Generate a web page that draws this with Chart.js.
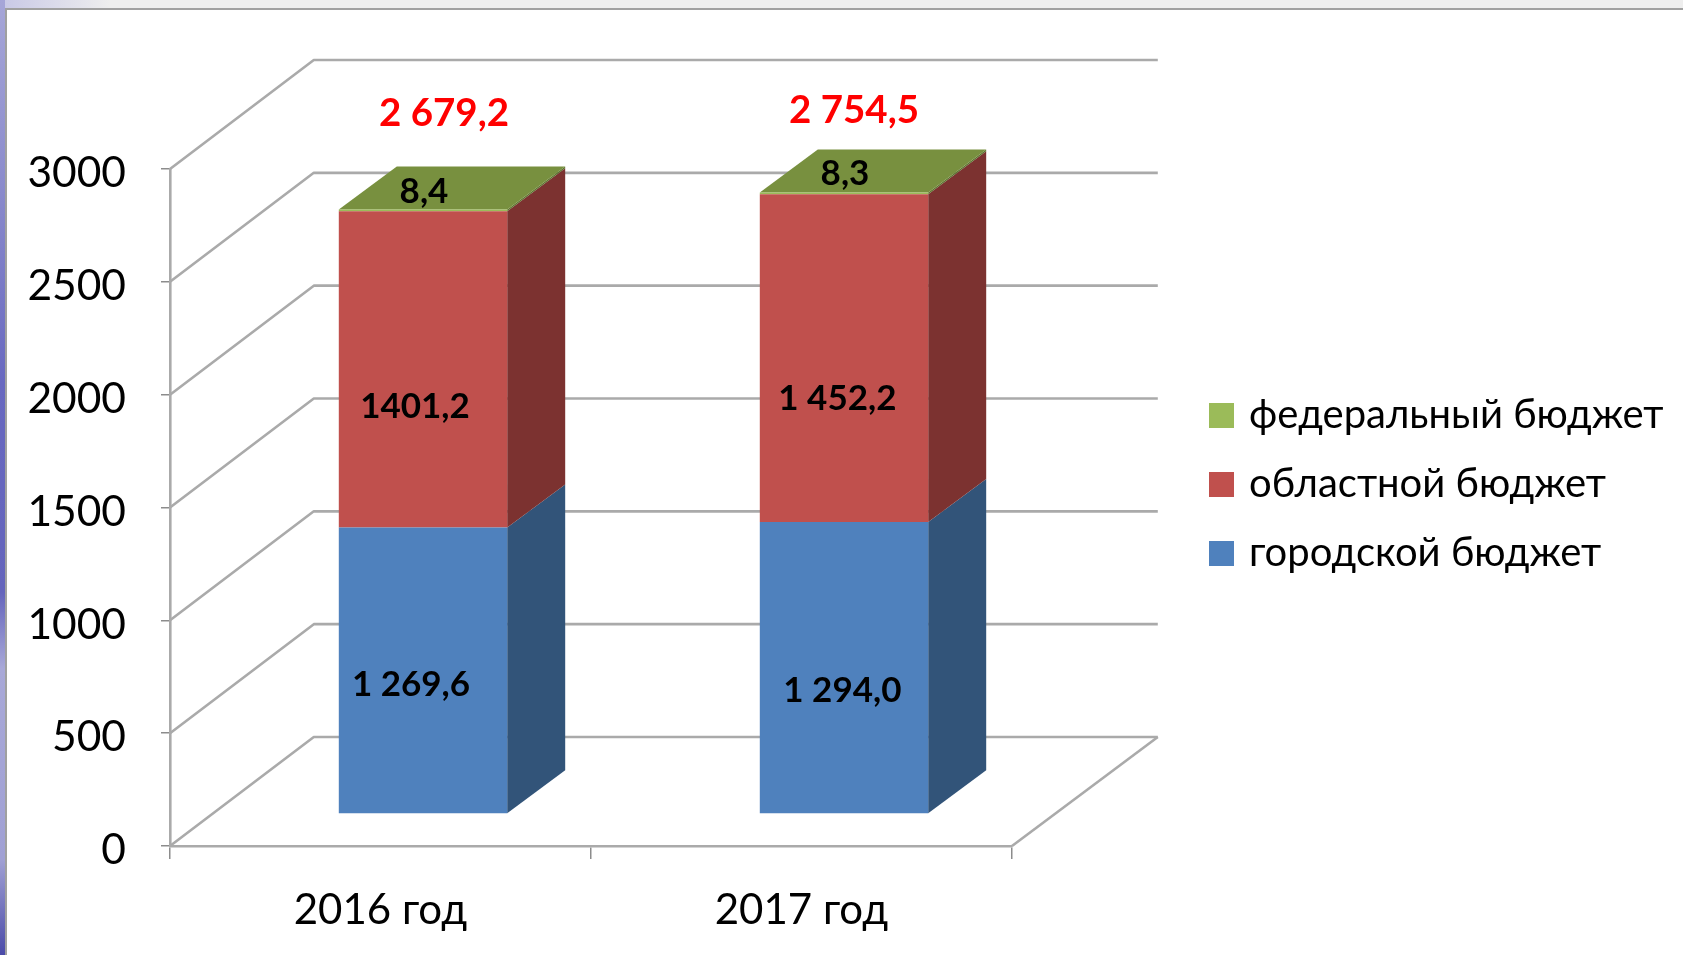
<!DOCTYPE html>
<html><head><meta charset="utf-8">
<style>html,body{margin:0;padding:0;background:#fff;overflow:hidden}canvas{display:block}</style>
<script src="https://cdn.jsdelivr.net/npm/chart.js@4/dist/chart.umd.min.js"></script>
</head><body>
<div style="width:1683px;height:955px"><canvas id="c" width="1683" height="955"></canvas></div>
<script>
const categories = ['2016 год', '2017 год'];
const cityBudget = [1269.6, 1294.0];
const regionBudget = [1401.2, 1452.2];
const federalBudget = [8.4, 8.3];
const cityLabels = ['1 269,6', '1 294,0'];
const regionLabels = ['1401,2', '1 452,2'];
const federalLabels = ['8,4', '8,3'];
const totalLabels = ['2 679,2', '2 754,5'];
const seriesNames = ['городской бюджет', 'областной бюджет', 'федеральный бюджет'];
const yTicks = [0, 500, 1000, 1500, 2000, 2500, 3000];

const FONT = 'Lato, "Open Sans", sans-serif';
const GRID = '#aaaaaa';
const DEPTH = {dx: 143.8, dy: -109};        // wall depth
const BAR_SHIFT = {dx: 42.5, dy: -32};      // bars stand inside the floor
const BAR_DEPTH = {dx: 58, dy: -43};

const faces = [
  {side: '#325479', top: '#3f6797'},
  {side: '#7c3230', top: '#9c403e'},
  {side: '#5f7530', top: '#78903f'}
];

const page = {
  id: 'page',
  beforeDraw(chart) {
    const {ctx, width, height} = chart;
    ctx.save();
    ctx.fillStyle = '#fff'; ctx.fillRect(0, 0, width, height);
    ctx.fillStyle = '#eeeeee'; ctx.fillRect(0, 0, width, 8);
    const top = ctx.createLinearGradient(0, 0, 110, 0);
    top.addColorStop(0, '#c8c8e6'); top.addColorStop(1, '#eeeeee');
    ctx.fillStyle = top; ctx.fillRect(0, 0, 110, 8);
    const left = ctx.createLinearGradient(0, 0, 0, height);
    left.addColorStop(0, '#a6a6d8'); left.addColorStop(0.2, '#8a8acc');
    left.addColorStop(0.4, '#6868c0'); left.addColorStop(0.62, '#6464bc');
    left.addColorStop(0.7, '#a8a8d8'); left.addColorStop(0.9, '#a0a0d4');
    left.addColorStop(1, '#4a4aa8');
    ctx.fillStyle = left; ctx.fillRect(0, 0, 5, height);
    ctx.fillStyle = '#a0a0a0';
    ctx.fillRect(5, 8, width - 5, 2);
    ctx.fillRect(5, 8, 2, height - 8);
    ctx.restore();
  }
};

const walls = {
  id: 'walls',
  beforeDatasetsDraw(chart) {
    const {ctx, chartArea: a, scales: {y}} = chart;
    ctx.save();
    ctx.strokeStyle = GRID; ctx.lineWidth = 2.6; ctx.lineJoin = 'round';
    yTicks.forEach(v => {
      const py = y.getPixelForValue(v);
      ctx.beginPath();
      ctx.moveTo(a.left, py);
      ctx.lineTo(a.left + DEPTH.dx, py + DEPTH.dy);
      ctx.lineTo(a.right + DEPTH.dx + 2, py + DEPTH.dy);
      ctx.stroke();
    });
    const y0 = y.getPixelForValue(0);
    ctx.beginPath();
    ctx.moveTo(a.right + DEPTH.dx + 2, y0 + DEPTH.dy);
    ctx.lineTo(a.right, y0);
    ctx.stroke();
    ctx.restore();
    // bars sit deeper on the floor than the front plane
    ctx.save();
    ctx.translate(BAR_SHIFT.dx, BAR_SHIFT.dy);
    chart.data.datasets.forEach((ds, i) => {
      const top = i === chart.data.datasets.length - 1;
      chart.getDatasetMeta(i).data.forEach(b => {
        const l = b.x - b.width / 2, r = b.x + b.width / 2;
        ctx.fillStyle = faces[i].side;
        ctx.beginPath();
        ctx.moveTo(r, b.base);
        ctx.lineTo(r + BAR_DEPTH.dx, b.base + BAR_DEPTH.dy);
        ctx.lineTo(r + BAR_DEPTH.dx, b.y + BAR_DEPTH.dy);
        ctx.lineTo(r, b.y);
        ctx.closePath(); ctx.fill();
        if (top) {
          ctx.fillStyle = faces[i].top;
          ctx.beginPath();
          ctx.moveTo(l, b.y);
          ctx.lineTo(l + BAR_DEPTH.dx, b.y + BAR_DEPTH.dy);
          ctx.lineTo(r + BAR_DEPTH.dx, b.y + BAR_DEPTH.dy);
          ctx.lineTo(r, b.y);
          ctx.closePath(); ctx.fill();
        }
      });
    });
  },
  afterDatasetsDraw(chart) {
    chart.ctx.restore();
  }
};

const valueText = {
  id: 'valueText',
  afterDraw(chart) {
    const {ctx} = chart;
    const m = i => chart.getDatasetMeta(i).data;
    const centre = b => ({x: b.x + BAR_SHIFT.dx, y: (b.y + b.base) / 2 + BAR_SHIFT.dy});
    ctx.save();
    ctx.textAlign = 'center'; ctx.textBaseline = 'middle';
    ctx.fillStyle = '#000';
    ctx.font = 'bold 35px ' + FONT;
    cityLabels.forEach((t, j) => {
      const c = centre(m(0)[j]);
      ctx.fillText(t, c.x + (j ? -1.6 : -12), c.y + (j ? 23 : 14));
    });
    regionLabels.forEach((t, j) => {
      const c = centre(m(1)[j]);
      ctx.fillText(t, c.x + (j ? -6.6 : -8), c.y + (j ? 40.7 : 37.4));
    });
    federalLabels.forEach((t, j) => {
      const c = centre(m(2)[j]);
      ctx.fillText(t, c.x + (j ? 1 : 1), c.y + (j ? -20 : -19));
    });
    ctx.font = 'bold 38.5px ' + FONT;
    ctx.fillStyle = '#ff0000';
    totalLabels.forEach((t, j) => {
      const c = centre(m(2)[j]);
      ctx.fillText(t, c.x + (j ? 10 : 21), c.y - (j ? 83 : 97));
    });
    ctx.restore();
  }
};

const placeLegend = {
  id: 'placeLegend',
  afterLayout(chart) {
    const l = chart.legend;
    l.left = 1214 - 29; l.top = 366.5; l.right = 1683; l.bottom = 900;
    const sy = chart.scales.y, draw = sy.drawLabels;
    sy.drawLabels = function (area) {
      const c = this.ctx; c.save(); c.translate(0, 4.5); draw.call(this, area); c.restore();
    };
  }
};

new Chart(document.getElementById('c'), {
  type: 'bar',
  data: {
    labels: categories,
    datasets: [
      {label: seriesNames[0], data: cityBudget, backgroundColor: '#4f81bd'},
      {label: seriesNames[1], data: regionBudget, backgroundColor: '#c0504d'},
      {label: seriesNames[2], data: federalBudget, backgroundColor: '#9bbb59'}
    ]
  },
  plugins: [page, walls, valueText, placeLegend],
  options: {
    responsive: false,
    animation: false,
    devicePixelRatio: 1,
    layout: {padding: {left: 20, right: 671, top: 169, bottom: 0}},
    datasets: {bar: {barPercentage: 0.4, categoryPercentage: 1}},
    scales: {
      x: {
        stacked: true,
        afterFit(s) { s.height = 109; },
        border: {display: true, color: GRID, width: 2.6},
        grid: {display: true, drawOnChartArea: false, drawTicks: true, tickLength: 13, color: '#8c8c8c', lineWidth: 1.5},
        ticks: {color: '#000', font: {family: FONT, size: 42}, padding: 26, maxRotation: 0}
      },
      y: {
        stacked: true, min: 0, max: 3000,
        afterBuildTicks(s) { s.ticks = yTicks.map(v => ({value: v})); },
        afterFit(s) { s.width = 150; },
        border: {display: true, color: GRID, width: 2.6},
        grid: {display: true, drawOnChartArea: false, drawTicks: true, tickLength: 9, color: '#8c8c8c', lineWidth: 1.5},
        ticks: {color: '#000', font: {family: FONT, size: 42.5}, padding: 35, callback: v => String(v)}
      }
    },
    plugins: {
      tooltip: {enabled: false},
      legend: {
        position: 'chartArea', reverse: true, align: 'start',
        labels: {
          boxWidth: 15, boxHeight: 15, padding: 29, color: '#000', font: {family: FONT, size: 40},
          generateLabels(chart) {
            return Chart.defaults.plugins.legend.labels.generateLabels(chart).map(item => (
              {...item, strokeStyle: item.fillStyle, lineWidth: 10}
            ));
          }
        }
      }
    }
  }
});
</script>
</body></html>
